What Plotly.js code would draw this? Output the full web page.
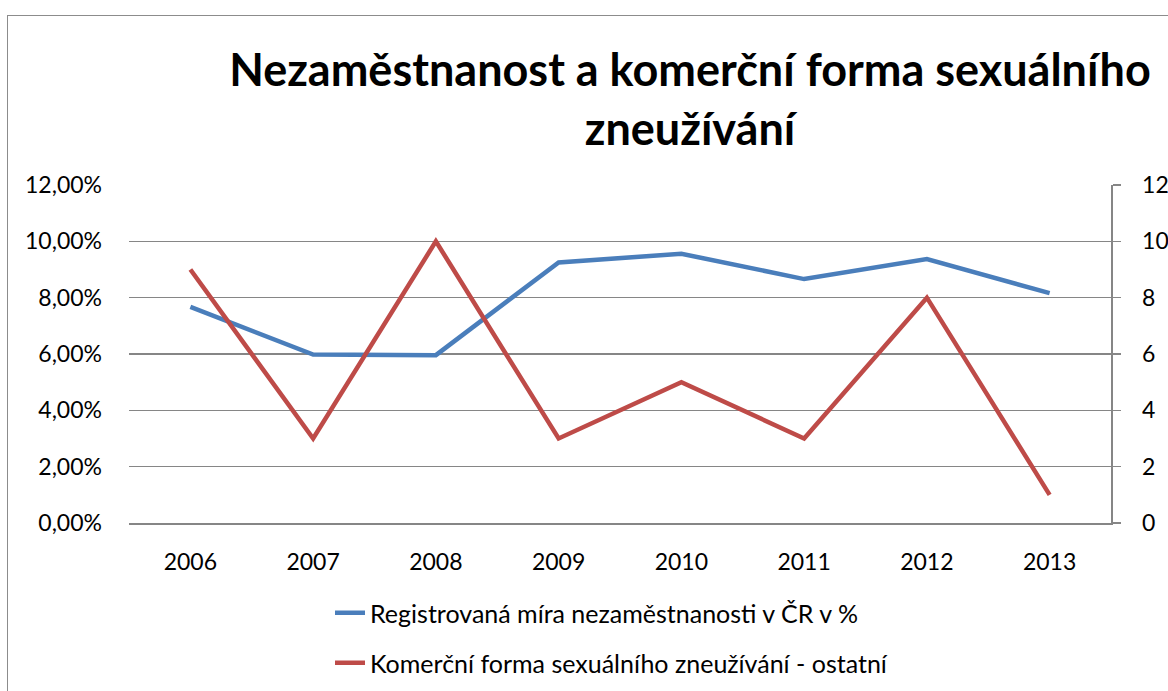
<!DOCTYPE html>
<html><head><meta charset="utf-8">
<script src="https://cdn.plot.ly/plotly-3.0.1.min.js"></script>
<style>
html,body{margin:0;padding:0;background:#fff;}
#wrap{position:relative;width:1168px;height:691px;overflow:hidden;}
#chart{width:1168px;height:691px;}
#frame{position:absolute;left:7px;top:15px;width:1200px;height:700px;border-left:1.5px solid #8c8c8c;border-top:1.5px solid #8c8c8c;pointer-events:none;}
</style></head>
<body>
<div id="wrap"><div id="chart"></div><div id="frame"></div></div>
<script>
const years = ['2006','2007','2008','2009','2010','2011','2012','2013'];
const unemployment = [0.0767, 0.0598, 0.0596, 0.0925, 0.0956, 0.0866, 0.0937, 0.0816];
const commercialAbuse = [9, 3, 10, 3, 5, 3, 8, 1];
const seriesNames = ['Registrovaná míra nezaměstnanosti v ČR v %', 'Komerční forma sexuálního zneužívání - ostatní'];
const titleText = 'Nezaměstnanost a komerční forma sexuálního<br>zneužívání';

const FONT = 'Lato, "Open Sans", sans-serif';
const traces = [
  {x: years, y: unemployment, name: seriesNames[0], type: 'scatter', mode: 'lines',
   line: {color: '#4A7EBB', width: 4.5}, yaxis: 'y', legend: 'legend'},
  {x: years, y: commercialAbuse, name: seriesNames[1], type: 'scatter', mode: 'lines',
   line: {color: '#BE4B48', width: 4.5}, yaxis: 'y2', legend: 'legend2'}
];
const layout = {
  width: 1168, height: 691,
  margin: {l: 129, r: 57, t: 185, b: 168, autoexpand: false},
  paper_bgcolor: '#fff', plot_bgcolor: '#fff',
  separators: ', ',
  font: {family: FONT, size: 23, color: '#000'},
  title: {text: titleText, font: {family: FONT, size: 45, color: '#000', weight: 'bold'},
    x: 690/1168, xanchor: 'center', xref: 'container', y: 1 - 86/691, yanchor: 'top', yref: 'container'},
  xaxis: {type: 'category', range: [-0.5, 7.5], showgrid: false, zeroline: false,
    showline: true, linecolor: '#868686', linewidth: 1.5, ticks: '', ticklabelstandoff: 18, tickangle: 0,
    tickfont: {family: FONT, size: 23}},
  yaxis: {range: [0, 0.12], dtick: 0.02, tickformat: '.2%', showgrid: true, gridcolor: '#868686', gridwidth: 1.3,
    zeroline: false, showline: false, ticks: '', ticklabelstandoff: 26, tickfont: {family: FONT, size: 23}},
  yaxis2: {range: [0, 12], dtick: 2, overlaying: 'y', side: 'right', showgrid: false, zeroline: false,
    showline: true, linecolor: '#868686', linewidth: 1.5, ticks: 'outside', ticklen: 8, tickcolor: '#868686', tickwidth: 1.5,
    ticklabelstandoff: 17, tickfont: {family: FONT, size: 23}},
  showlegend: true,
  legend: {xref: 'container', yref: 'container', x: 330/1168, y: 1 - 613/691, xanchor: 'left', yanchor: 'middle',
    font: {family: FONT, size: 25}, bgcolor: 'rgba(0,0,0,0)'},
  legend2: {xref: 'container', yref: 'container', x: 330/1168, y: 1 - 663/691, xanchor: 'left', yanchor: 'middle',
    font: {family: FONT, size: 25}, bgcolor: 'rgba(0,0,0,0)'}
};
Plotly.newPlot('chart', traces, layout, {staticPlot: true, displayModeBar: false});
</script>
</body></html>
